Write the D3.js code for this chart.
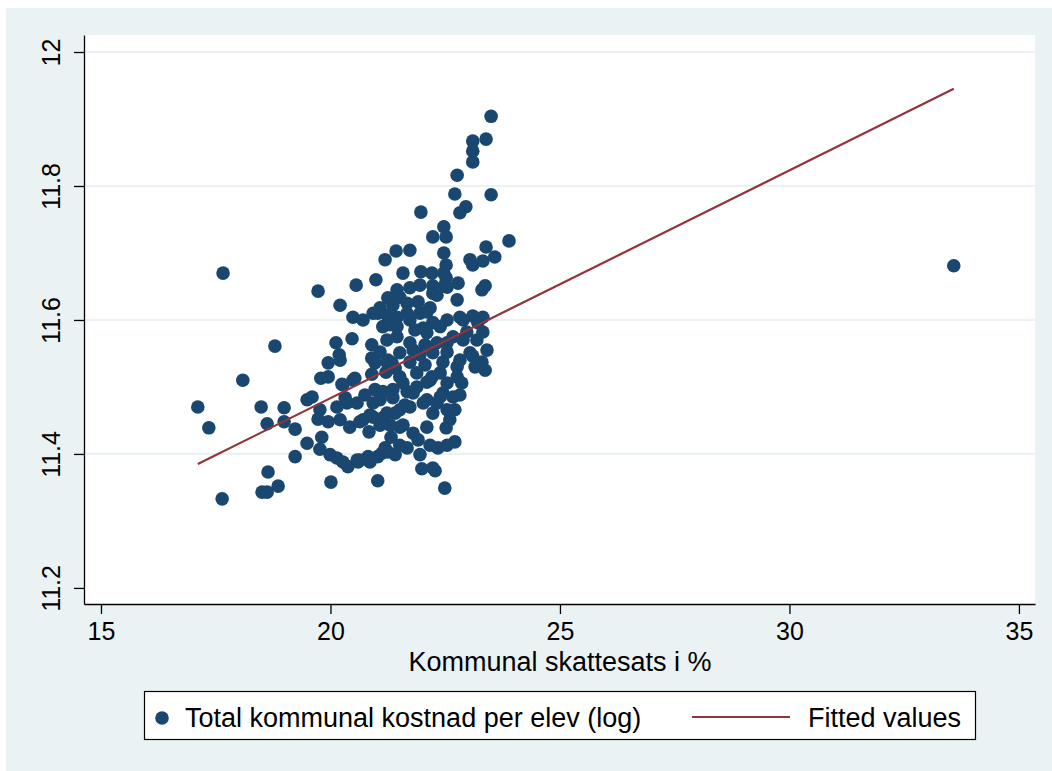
<!DOCTYPE html>
<html>
<head>
<meta charset="utf-8">
<script src="https://cdn.jsdelivr.net/npm/d3@7"></script>
<style>
  html, body { margin: 0; padding: 0; background: #ffffff; }
  svg { display: block; }
  text { font-family: "Liberation Sans", Arial, Helvetica, sans-serif; fill: #000; }
</style>
</head>
<body>
<svg id="chart" width="1052" height="771"></svg>
<script>
// Municipal tax rate (%) for each municipality
const taxRate = [
  17.11, 17.35, 17.66, 17.64, 18.09, 18.79, 18.49, 18.62, 18.51, 18.62,
  18.64, 18.86, 18.99, 18.99, 19.23, 19.23, 19.49, 19.49, 19.60, 19.73,
  19.77, 19.79, 19.73, 19.77, 19.81, 19.95, 19.95, 19.95, 19.99, 20.01,
  20.12, 20.14, 20.14, 20.19, 20.21, 20.21, 20.21, 20.25, 20.27, 20.36,
  20.38, 20.42, 20.47, 20.49, 20.49, 20.56, 20.58, 20.60, 20.64, 20.71,
  20.27, 20.32, 20.53, 20.58, 20.71, 20.82, 20.84, 20.86, 20.86, 20.90,
  20.90, 20.90, 20.93, 20.93, 20.97, 20.97, 20.99, 21.03, 21.03, 21.03,
  21.08, 21.08, 21.08, 21.12, 21.14, 21.14, 21.14, 21.19, 21.19, 21.21,
  21.23, 21.23, 21.23, 21.25, 21.25, 21.25, 21.32, 21.34, 21.36, 21.36,
  21.36, 21.41, 21.43, 21.45, 21.45, 21.45, 21.51, 21.51, 21.51, 21.51,
  21.51, 21.51, 21.58, 21.58, 21.58, 21.67, 21.67, 21.67, 21.73, 21.73,
  21.73, 21.73, 21.73, 21.73, 21.80, 21.80, 21.88, 21.88, 21.91, 21.95,
  21.95, 21.95, 21.97, 21.97, 21.99, 22.02, 22.10, 22.10, 22.10, 22.10,
  22.17, 22.17, 22.21, 22.21, 22.23, 22.23, 22.23, 22.23, 22.23, 22.23,
  22.23, 22.28, 22.32, 22.32, 22.32, 22.34, 22.39, 22.39, 22.45, 22.45,
  22.47, 22.47, 22.47, 22.49, 22.49, 22.52, 22.52, 22.52, 22.52, 22.54,
  22.54, 22.54, 22.54, 22.54, 22.60, 22.67, 22.67, 22.71, 22.71, 22.76,
  22.76, 22.76, 22.76, 22.78, 22.82, 22.82, 22.86, 22.89, 22.95, 22.97,
  23.04, 23.04, 23.10, 23.10, 23.10, 23.10, 23.10, 23.15, 23.19, 23.21,
  23.30, 23.30, 23.32, 23.32, 23.37, 23.37, 23.39, 23.39, 23.41, 23.50,
  23.50, 23.58, 23.89, 33.58,
  20.64, 20.93, 21.23, 21.67, 22.10, 22.82, 23.32, 21.45, 22.02, 22.39,
  22.54, 22.89, 21.80, 23.10,
  21.30, 21.84, 22.06, 22.54, 21.41, 22.06, 21.62, 21.30, 21.91, 22.17,
  22.71, 20.75, 21.41, 21.95, 22.82, 21.08
];

// Total municipal cost per pupil (log)
const logCost = [
  11.470, 11.439, 11.670, 11.333, 11.510, 11.561, 11.470, 11.445, 11.343, 11.343,
  11.373, 11.352, 11.469, 11.448, 11.437, 11.396, 11.416, 11.481, 11.485, 11.643,
  11.466, 11.513, 11.452, 11.407, 11.425, 11.536, 11.515, 11.448, 11.399, 11.358,
  11.566, 11.470, 11.394, 11.548, 11.622, 11.540, 11.451, 11.504, 11.388, 11.476,
  11.381, 11.440, 11.572, 11.604, 11.510, 11.652, 11.476, 11.388, 11.448, 11.600,
  11.503, 11.484, 11.513, 11.391, 11.451, 11.396, 11.433, 11.458, 11.388, 11.563,
  11.543, 11.519, 11.476, 11.455, 11.536, 11.496, 11.660, 11.610, 11.396, 11.360,
  11.618, 11.552, 11.481, 11.401, 11.590, 11.493, 11.454, 11.690, 11.409, 11.522,
  11.570, 11.537, 11.461, 11.633, 11.540, 11.403, 11.425, 11.536, 11.622, 11.496,
  11.484, 11.461, 11.703, 11.645, 11.604, 11.575, 11.634, 11.551, 11.515, 11.466,
  11.440, 11.413, 11.670, 11.506, 11.443, 11.625, 11.493, 11.409, 11.704, 11.648,
  11.600, 11.566, 11.537, 11.470, 11.491, 11.431, 11.521, 11.500, 11.627, 11.652,
  11.610, 11.548, 11.761, 11.672, 11.378, 11.476, 11.581, 11.507, 11.481, 11.440,
  11.618, 11.510, 11.670, 11.515, 11.724, 11.651, 11.640, 11.596, 11.551, 11.461,
  11.379, 11.375, 11.637, 11.566, 11.476, 11.409, 11.521, 11.485, 11.537, 11.491,
  11.739, 11.700, 11.670, 11.652, 11.349, 11.724, 11.682, 11.663, 11.439, 11.649,
  11.600, 11.506, 11.466, 11.413, 11.451, 11.575, 11.485, 11.788, 11.418, 11.816,
  11.630, 11.530, 11.515, 11.655, 11.760, 11.540, 11.506, 11.600, 11.769, 11.582,
  11.690, 11.551, 11.867, 11.852, 11.836, 11.682, 11.606, 11.530, 11.570, 11.596,
  11.645, 11.537, 11.688, 11.582, 11.651, 11.525, 11.870, 11.709, 11.555, 11.904,
  11.787, 11.694, 11.718, 11.681,
  11.391, 11.610, 11.607, 11.610, 11.612, 11.604, 11.604, 11.590, 11.588, 11.590,
  11.566, 11.570, 11.555, 11.546,
  11.593, 11.585, 11.563, 11.552, 11.528, 11.533, 11.473, 11.443, 11.421, 11.413,
  11.466, 11.488, 11.399, 11.399, 11.488, 11.443
];

// Fitted regression line, evaluated at the smallest and largest tax rate
const fitX = [17.11, 33.58];
const fitY = [11.385, 11.945];

const xTicks = [15, 20, 25, 30, 35];
const yTicks = [11.2, 11.4, 11.6, 11.8, 12];
const yGrid = [11.4, 11.6, 11.8, 12];

const xTitle = "Kommunal skattesats i %";
const legendLabels = ["Total kommunal kostnad per elev (log)", "Fitted values"];

const navy = "#1a476f";
const maroon = "#90353b";
const bg = "#eaf2f3";

const svg = d3.select("#chart");

// outer graph region
svg.append("rect")
  .attr("x", 6).attr("y", 8)
  .attr("width", 1046).attr("height", 763)
  .attr("fill", bg);

const plot = { left: 84, right: 1035, top: 35, bottom: 604 };

const x = d3.scaleLinear().domain([14.63, 35.35]).range([plot.left, plot.right]);
const y = d3.scaleLinear().domain([11.176, 12.0254]).range([plot.bottom, plot.top]);

// plot region
svg.append("rect")
  .attr("x", plot.left).attr("y", plot.top)
  .attr("width", plot.right - plot.left).attr("height", plot.bottom - plot.top)
  .attr("fill", "#ffffff");

// horizontal grid lines
svg.append("g")
  .selectAll("line")
  .data(yGrid)
  .join("line")
  .attr("x1", plot.left).attr("x2", plot.right)
  .attr("y1", d => y(d)).attr("y2", d => y(d))
  .attr("stroke", bg)
  .attr("stroke-width", 2.2);

// scatter points
const pts = taxRate.map((t, i) => ({ t, c: logCost[i] }));
svg.append("g")
  .selectAll("circle")
  .data(pts)
  .join("circle")
  .attr("cx", d => x(d.t))
  .attr("cy", d => y(d.c))
  .attr("r", 6.8)
  .attr("fill", navy);

// fitted line
svg.append("path")
  .datum(fitX.map((v, i) => [v, fitY[i]]))
  .attr("fill", "none")
  .attr("stroke", maroon)
  .attr("stroke-width", 2.2)
  .attr("d", d3.line().x(d => x(d[0])).y(d => y(d[1])));

// axes
const xAxis = svg.append("g")
  .attr("transform", `translate(0,${plot.bottom})`)
  .call(d3.axisBottom(x).tickValues(xTicks).tickFormat(d3.format("d")).tickSize(10).tickSizeOuter(0).tickPadding(8));
xAxis.selectAll("text").attr("font-size", 25).attr("dy", "0.71em");

const yAxis = svg.append("g")
  .attr("transform", `translate(${plot.left},0)`)
  .call(d3.axisLeft(y).tickValues(yTicks).tickFormat(d => d3.format("")(+d.toFixed(1))).tickSize(10).tickSizeOuter(0));
yAxis.selectAll("text")
  .attr("transform", "rotate(-90)")
  .attr("x", 0).attr("y", -24).attr("dy", 0)
  .attr("text-anchor", "middle")
  .attr("font-size", 25);

[xAxis, yAxis].forEach(g => {
  g.select(".domain").attr("stroke", "#000").attr("stroke-width", 1.3);
  g.selectAll(".tick line").attr("stroke", "#000").attr("stroke-width", 1.3);
});

// axis title
svg.append("text")
  .attr("x", (x(15) + x(35)) / 2)
  .attr("y", 671)
  .attr("text-anchor", "middle")
  .attr("font-size", 27)
  .text(xTitle);

// legend
const legend = svg.append("g");
legend.append("rect")
  .attr("x", 144.5).attr("y", 691.5)
  .attr("width", 831).attr("height", 48)
  .attr("fill", "#ffffff")
  .attr("stroke", "#000").attr("stroke-width", 1.2);
legend.append("circle")
  .attr("cx", 162).attr("cy", 718).attr("r", 6.8).attr("fill", navy);
legend.append("text")
  .attr("x", 185).attr("y", 727)
  .attr("font-size", 27)
  .text(legendLabels[0]);
legend.append("line")
  .attr("x1", 692).attr("x2", 790).attr("y1", 717).attr("y2", 717)
  .attr("stroke", maroon).attr("stroke-width", 2.2);
legend.append("text")
  .attr("x", 808).attr("y", 727)
  .attr("font-size", 27)
  .text(legendLabels[1]);
</script>
</body>
</html>
